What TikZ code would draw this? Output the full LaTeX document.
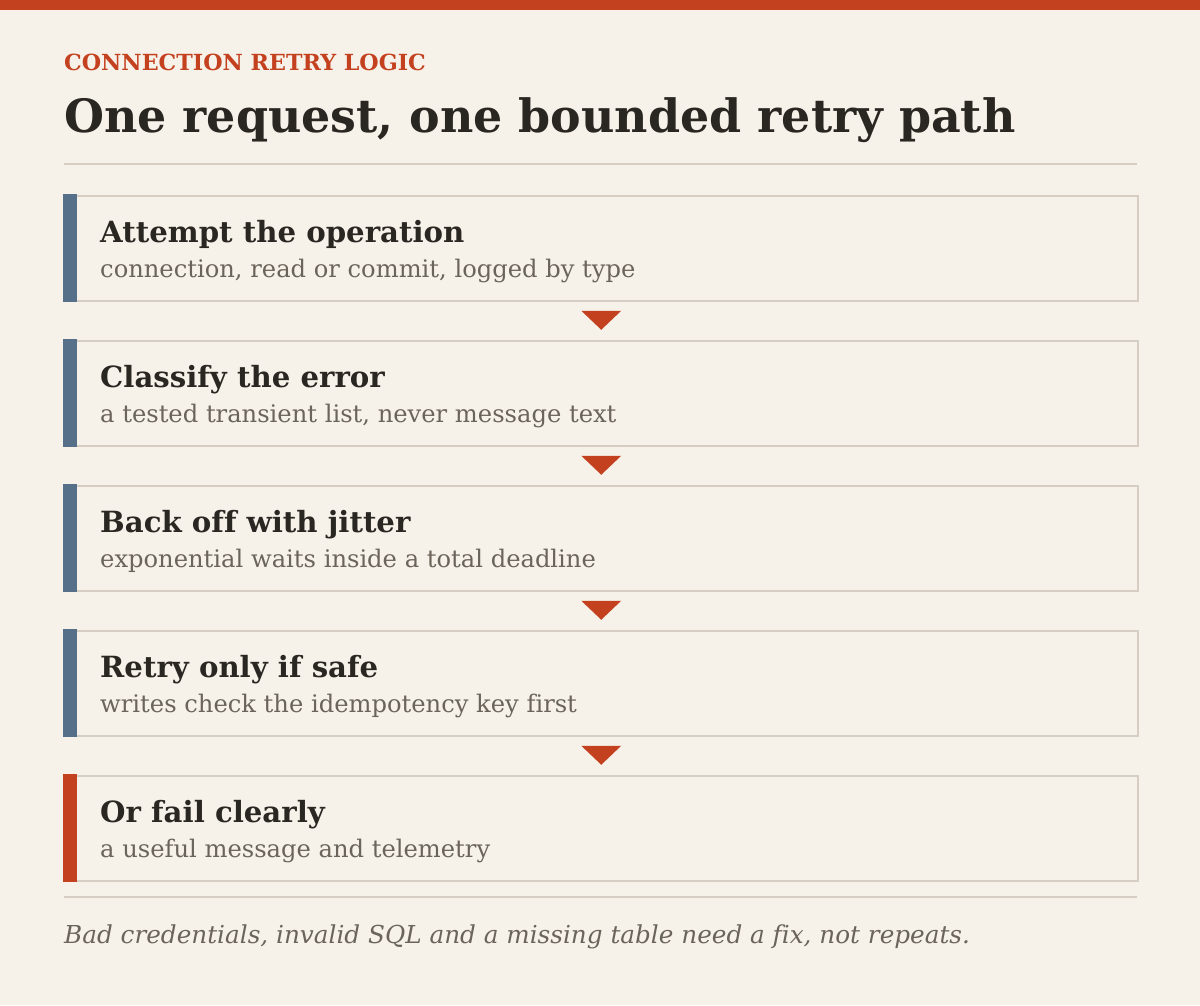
\documentclass[tikz,border=0pt]{standalone}
\usepackage{fontspec}
\setmainfont[Ligatures=NoCommon]{DejaVu Serif}
\usetikzlibrary{positioning,calc}

\definecolor{paper}{HTML}{F7F2E9}
\definecolor{rust}{HTML}{C4411F}
\definecolor{slate}{HTML}{56708A}
\definecolor{ink}{HTML}{2A2622}
\definecolor{muted}{HTML}{6B645A}
\definecolor{rule}{HTML}{D6CEC2}

\tikzset{
  stepbox/.style={draw=rule, line width=1.5pt, fill=paper, rectangle,
    minimum width=1073pt, minimum height=105pt, inner sep=0pt, anchor=north west},
  steptitle/.style={anchor=base west, inner sep=0pt, text=ink, font=\fontsize{29.2}{34}\selectfont\bfseries},
  stepnote/.style={anchor=base west, inner sep=0pt, text=muted, font=\fontsize{24.2}{29}\selectfont},
  marker/.style={fill=rust}
}

\begin{document}
\begin{tikzpicture}[x=1pt,y=-1pt]
      % Hintergrund
      \fill[paper] (0,0) rectangle (1200,1005);
      \useasboundingbox (0,0) rectangle (1200,1005);
      \fill[rust] (0,0) rectangle (1200,10);

      % Kopf
      \node[anchor=base west, inner sep=0pt, text=rust, font=\fontsize{22.2}{26}\selectfont\bfseries] (kicker) at (64,70) {CONNECTION RETRY LOGIC};
      \node[anchor=base west, inner sep=0pt, text=ink, font=\fontsize{45.9}{54}\selectfont\bfseries] (headline) at (64,132) {One request, one bounded retry path};
      \draw[rule, line width=1.5pt] (64,164) -- (1137,164);

      % Schritte
      \node[stepbox] (s1) at (64,195) {};
      \node[stepbox] (s2) at (64,340) {};
      \node[stepbox] (s3) at (64,485) {};
      \node[stepbox] (s4) at (64,630) {};
      \node[stepbox] (s5) at (64,775) {};

      % Farbstreifen links
      \foreach \s in {s1,s2,s3,s4}
        \fill[slate] ([xshift=-0.75pt,yshift=0.75pt]\s.north west) rectangle ([xshift=13pt,yshift=-0.75pt]\s.south west);
      \fill[rust] ([xshift=-0.75pt,yshift=0.75pt]s5.north west) rectangle ([xshift=13pt,yshift=-0.75pt]s5.south west);

      % Texte
      \node[steptitle] (t1) at ([xshift=36pt,yshift=-47pt]s1.north west) {Attempt the operation};
      \node[stepnote] (n1) at ([xshift=36pt,yshift=-82pt]s1.north west) {connection, read or commit, logged by type};
      \node[steptitle] (t2) at ([xshift=36pt,yshift=-47pt]s2.north west) {Classify the error};
      \node[stepnote] (n2) at ([xshift=36pt,yshift=-82pt]s2.north west) {a tested transient list, never message text};
      \node[steptitle] (t3) at ([xshift=36pt,yshift=-47pt]s3.north west) {Back off with jitter};
      \node[stepnote] (n3) at ([xshift=36pt,yshift=-82pt]s3.north west) {exponential waits inside a total deadline};
      \node[steptitle] (t4) at ([xshift=36pt,yshift=-47pt]s4.north west) {Retry only if safe};
      \node[stepnote] (n4) at ([xshift=36pt,yshift=-82pt]s4.north west) {writes check the idempotency key first};
      \node[steptitle] (t5) at ([xshift=36pt,yshift=-47pt]s5.north west) {Or fail clearly};
      \node[stepnote] (n5) at ([xshift=36pt,yshift=-82pt]s5.north west) {a useful message and telemetry};

      % Pfeile zwischen den Schritten
      \foreach \a/\b in {s1/s2,s2/s3,s3/s4,s4/s5}
        \fill[marker] ($(\a.south)!0.5!(\b.north)$) ++(-20,-10) -- ++(40,0) -- ++(-20,19) -- cycle;

      % Fusszeile
      \draw[rule, line width=1.5pt] (64,897) -- (1137,897);
      \node[anchor=base west, inner sep=0pt, text=muted, font=\fontsize{24.7}{30}\selectfont\itshape] (footer) at (64,943) {Bad credentials, invalid SQL and a missing table need a fix, not repeats.};

\end{tikzpicture}
\end{document}
